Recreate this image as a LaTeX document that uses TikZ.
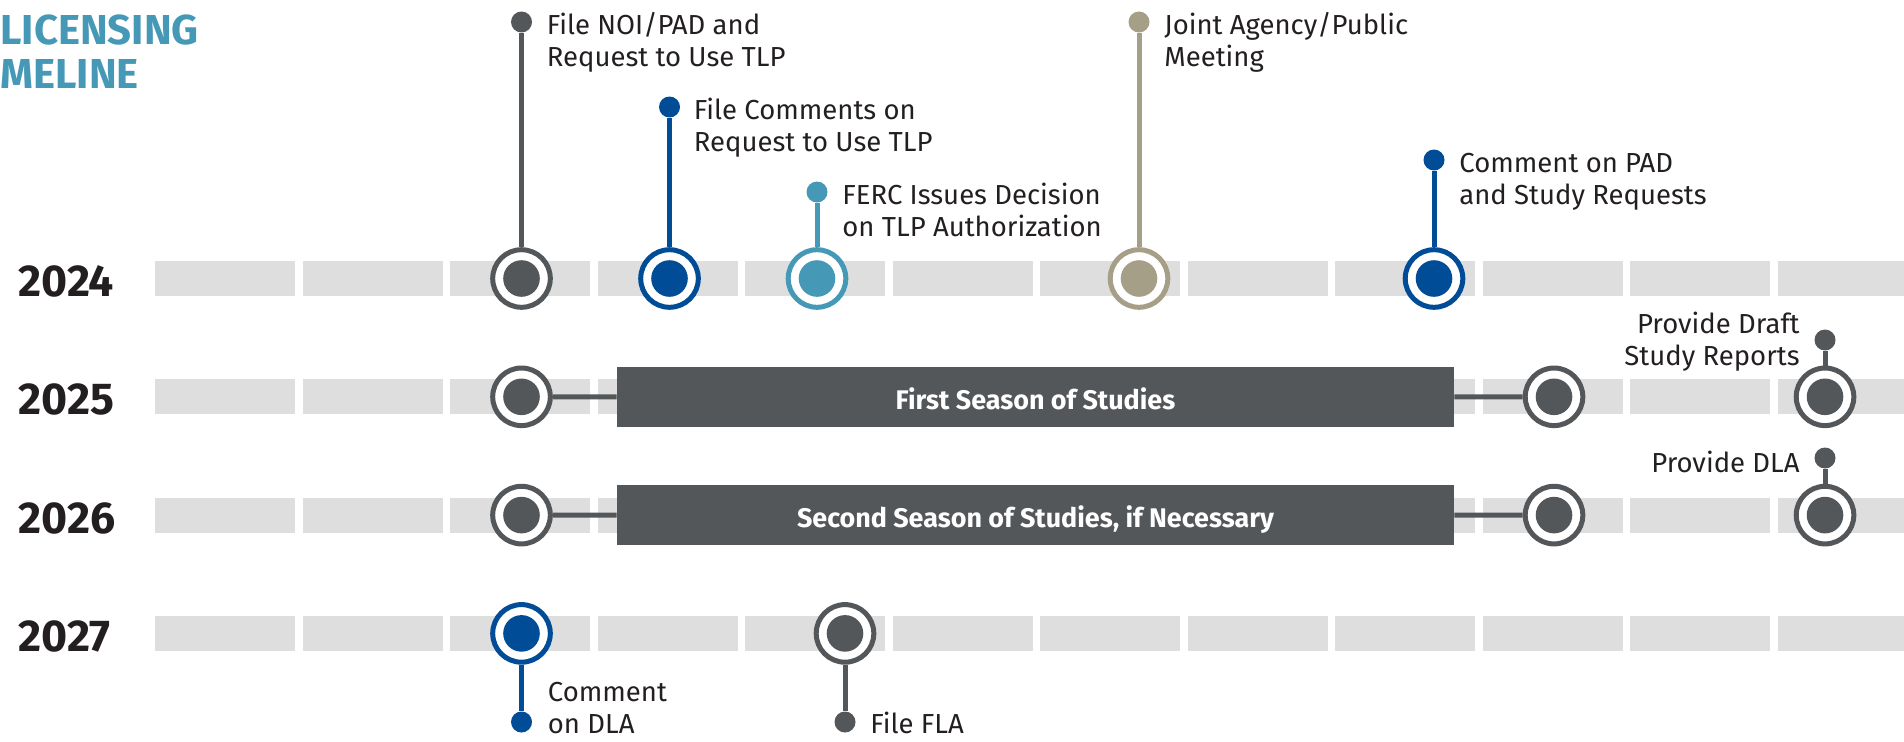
\documentclass[tikz,border=0pt]{standalone}
\usepackage{fontspec}
\setmainfont{Fira Sans}

\definecolor{ink}{HTML}{231F20}
\definecolor{slate}{HTML}{54575A}
\definecolor{navy}{HTML}{004C97}
\definecolor{lagoon}{HTML}{4699B6}
\definecolor{sand}{HTML}{A69F87}
\definecolor{rail}{HTML}{DDDEDD}

\tikzset{
  slot/.style={fill=rail},
  ring/.style={circle, draw=#1, line width=2.5bp, fill=white, inner sep=0pt,
    minimum size=28.8bp,
    path picture={\fill[#1] (path picture bounding box.center) circle (9.15bp);}},
  knob/.style={circle, fill=#1, inner sep=0pt, minimum size=10.5bp},
  stem/.style={draw=#1, line width=2.5bp},
  lbl/.style={font=\fontsize{13.8}{16}\selectfont, text=ink, inner sep=0pt,
    align=left, anchor=base west},
  yr/.style={font=\bfseries\fontsize{22.4}{24}\selectfont, text=ink,
    inner sep=0pt, anchor=base west},
  season/.style={fill=slate, text=white, font=\bfseries\fontsize{13.5}{15}\selectfont,
    minimum width=418.5bp, minimum height=30bp, text height=12bp,
    text depth=0pt, inner sep=0pt},
}

\begin{document}
\begin{tikzpicture}[x=0.5bp,y=-0.5bp]
  \useasboundingbox (0,0) rectangle (1904,741);
  \clip (0,0) rectangle (1904,741);

  % heading and years
  \node[font=\bfseries\fontsize{21}{22}\selectfont, text=lagoon, inner sep=0pt,
    align=left, anchor=base west] (title) at (0,88) {LICENSING\\MELINE};
  \node[yr] (y24) at (18,296.5) {2024};
  \node[yr] (y25) at (18,414.8) {2025};
  \node[yr] (y26) at (18,533.1) {2026};
  \node[yr] (y27) at (18,651.4) {2027};

  % dashed rails, one per year
  \foreach \row in {278.5,396.8,515.1,633.4}
    \foreach \k in {0,...,11}
      \fill[slot] ({155+147.5*\k},{\row-17.5}) rectangle ++(140,35);

  % study seasons
  \node[season] (s1) at (1035.5,397) {First Season of Studies};
  \node[season] (s2) at (1035.5,515) {Second Season of Studies, if Necessary};

  % milestones
  \node[ring=slate]  (a1) at (521.5,278.5) {};
  \node[ring=navy]   (a2) at (669.5,278.5) {};
  \node[ring=lagoon] (a3) at (817,278.5) {};
  \node[ring=sand]   (a4) at (1139,278.5) {};
  \node[ring=navy]   (a5) at (1434,278.5) {};
  \node[ring=slate]  (b1) at (521.5,396.8) {};
  \node[ring=slate]  (b2) at (1554,396.8) {};
  \node[ring=slate]  (b3) at (1825,396.8) {};
  \node[ring=slate]  (c1) at (521.5,515.1) {};
  \node[ring=slate]  (c2) at (1554,515.1) {};
  \node[ring=slate]  (c3) at (1825,515.1) {};
  \node[ring=navy]   (d1) at (521.5,633.4) {};
  \node[ring=slate]  (d2) at (845,633.4) {};

  \node[knob=slate]  (pa1) at (521.5,22) {};
  \node[knob=navy]   (pa2) at (669.5,107) {};
  \node[knob=lagoon] (pa3) at (817,192) {};
  \node[knob=sand]   (pa4) at (1139,22) {};
  \node[knob=navy]   (pa5) at (1434,160) {};
  \node[knob=slate]  (pb3) at (1825,340) {};
  \node[knob=slate]  (pc3) at (1825,458) {};
  \node[knob=navy]   (pd1) at (521.5,722) {};
  \node[knob=slate]  (pd2) at (845,722) {};

  \draw[stem=slate]  (pa1) -- (a1);
  \draw[stem=navy]   (pa2) -- (a2);
  \draw[stem=lagoon] (pa3) -- (a3);
  \draw[stem=sand]   (pa4) -- (a4);
  \draw[stem=navy]   (pa5) -- (a5);
  \draw[stem=slate]  (pb3) -- (b3);
  \draw[stem=slate]  (pc3) -- (c3);
  \draw[stem=navy]   (pd1) -- (d1);
  \draw[stem=slate]  (pd2) -- (d2);

  \draw[stem=slate] (b1) -- (s1);
  \draw[stem=slate] (s1) -- (b2);
  \draw[stem=slate] (c1) -- (s2);
  \draw[stem=slate] (s2) -- (c2);

  % milestone texts (base sits on the last line)
  \node[lbl] (ta1) at ([shift={(25,44)}]pa1.center) {File NOI/PAD and\\Request to Use TLP};
  \node[lbl] (ta2) at ([shift={(24,44)}]pa2.center) {File Comments on\\Request to Use TLP};
  \node[lbl] (ta3) at ([shift={(25,44)}]pa3.center) {FERC Issues Decision\\on TLP Authorization};
  \node[lbl] (ta4) at ([shift={(25,44)}]pa4.center) {Joint Agency/Public\\Meeting};
  \node[lbl] (ta5) at ([shift={(25,44)}]pa5.center) {Comment on PAD\\and Study Requests};
  \node[lbl, anchor=base east, align=right] (tb3) at ([shift={(-25,25)}]pb3.center)
    {Provide Draft\\Study Reports};
  \node[lbl, anchor=base east] (tc3) at ([shift={(-25,14)}]pc3.center) {Provide DLA};
  \node[lbl] (td1) at ([shift={(26,11.5)}]pd1.center) {Comment\\on DLA};
  \node[lbl] (td2) at ([shift={(25,11.5)}]pd2.center) {File FLA};
\end{tikzpicture}
\end{document}
